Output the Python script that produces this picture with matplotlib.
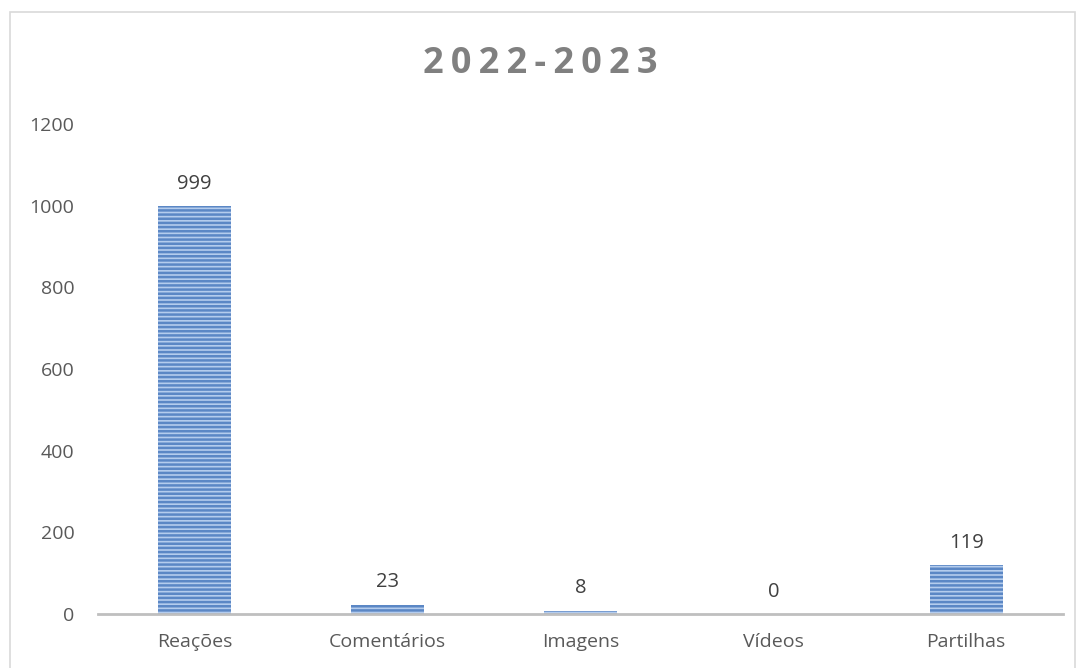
import matplotlib.pyplot as plt
from matplotlib.patches import Rectangle

categories = ["Reações", "Comentários", "Imagens", "Vídeos", "Partilhas"]
values = [999, 23, 8, 0, 119]
yticks = [0, 200, 400, 600, 800, 1000, 1200]

plt.rcParams["font.family"] = ["Open Sans", "DejaVu Sans"]
plt.rcParams["hatch.linewidth"] = 1.8

fig = plt.figure(figsize=(10.81, 6.68), dpi=100)
ax = fig.add_axes([0.0907, 0.0808, 0.8923, 0.7336])

# outer chart frame
fig.patches.append(Rectangle((10 / 1081, -0.01), 1065 / 1081, 1 - 12 / 668 + 0.01,
                             transform=fig.transFigure, fill=False,
                             edgecolor="#d9d9d9", linewidth=1.2))

x = range(len(categories))
ax.bar(x, values, width=0.38, color="#b4cced", edgecolor="#5b87c5",
       linewidth=0, hatch="----")

for xi, v in zip(x, values):
    ax.annotate(str(v), (xi, v), xytext=(0, 9), textcoords="offset points",
                ha="center", va="bottom", fontsize=14.5, color="#404040")

ax.set_xlim(-0.5, len(categories) - 0.5)
ax.set_ylim(0, 1200)
ax.set_yticks(yticks)
ax.set_xticks(list(x))
ax.set_xticklabels(categories)
ax.tick_params(axis="both", length=0, labelsize=14, labelcolor="#595959")
ax.tick_params(axis="x", pad=14)
ax.tick_params(axis="y", pad=17)
for s in ["top", "right", "left"]:
    ax.spines[s].set_visible(False)
ax.spines["bottom"].set_color("#bfbfbf")
ax.spines["bottom"].set_linewidth(2)

fig.text(0.5, 1 - 64 / 668, "\u2009".join("2022-2023"), ha="center", va="center",
         fontsize=26, fontweight="bold", color="#808080")

fig.savefig("out.png", dpi=100)
